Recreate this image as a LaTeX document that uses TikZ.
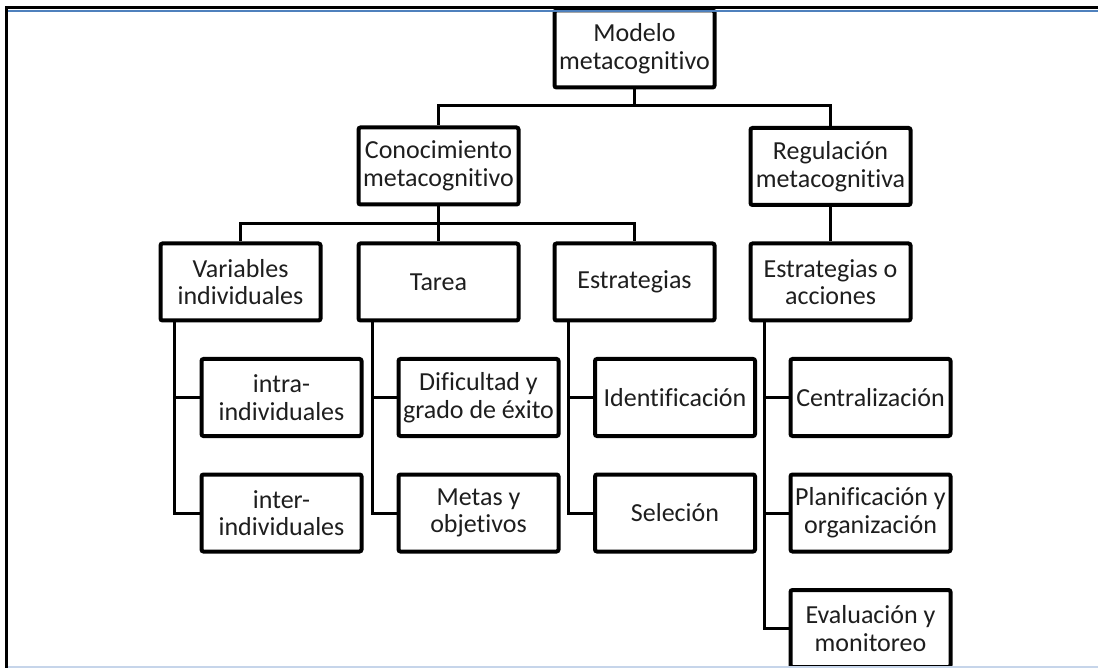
\documentclass[tikz,border=0pt]{standalone}
\usepackage{fontspec}
\setmainfont{Carlito}[Ligatures=NoCommon]
\usetikzlibrary{positioning,calc}
\definecolor{framebl}{HTML}{4F81BD}
\definecolor{framelt}{HTML}{C6D5EA}
\definecolor{inkgray}{HTML}{1E1E1E}
\tikzset{
  mbox/.style={draw=black, line width=2pt, rounded corners=1pt, fill=white,
               minimum width=80pt, minimum height=38.5pt, inner sep=1pt,
               align=center, text=inkgray, font=\fontsize{13}{13.8}\selectfont},
  conn/.style={line width=1.5pt, draw=black}}

\begin{document}
\begin{tikzpicture}[x=0.5pt, y=-0.5pt]
  \clip (0,0) rectangle (1098,668);
  \fill[white] (0,0) rectangle (1098,668);

  % top
  \node[mbox] (modelo) at (634.5,49) {Modelo\\metacognitivo};
  \node[mbox] (conoc) at (438.5,166) {Conocimiento\\metacognitivo};
  \node[mbox] (regul) at (830.5,166.5) {Regulación\\metacognitiva};

  % third row
  \node[mbox] (varind) at (240.5,282) {Variables\\individuales};
  \node[mbox] (tarea) at (438.5,282) {Tarea};
  \node[mbox] (estrat) at (634.5,282) {Estrategias};
  \node[mbox] (estacc) at (830.5,282) {Estrategias o\\acciones};

  % leaves
  \node[mbox] (intra) at (281.5,397.5) {intra-\\individuales};
  \node[mbox] (inter) at (281.5,513) {inter-\\individuales};
  \node[mbox] (dific) at (478.5,397.5) {Dificultad y\\grado de éxito};
  \node[mbox] (metas) at (478.5,513) {Metas y\\objetivos};
  \node[mbox] (ident) at (675,397.5) {Identificación};
  \node[mbox] (selec) at (675,513) {Seleción};
  \node[mbox] (centr) at (870.5,397.5) {Centralización};
  \node[mbox] (plan) at (870.5,513) {Planificación y\\organización};
  \node[mbox] (eval) at (870.5,628.5) {Evaluación y\\monitoreo};

  \draw[conn] (modelo.south) -- ++(0,16) -| (conoc.north);
  \draw[conn] (modelo.south) -- ++(0,16) -| (regul.north);
  \draw[conn] (conoc.south) -- ++(0,17) -| (varind.north);
  \draw[conn] (conoc.south) -- (tarea.north);
  \draw[conn] (conoc.south) -- ++(0,17) -| (estrat.north);
  \draw[conn] (regul.south) -- (estacc.north);

  \foreach \p/\a/\b in {varind/intra/inter, tarea/dific/metas, estrat/ident/selec}{
    \draw[conn] ([xshift=8pt]\p.south west) |- (\a.west);
    \draw[conn] ([xshift=8pt]\p.south west) |- (\b.west);
  }
  \foreach \c in {centr, plan, eval}
    \draw[conn] ([xshift=8pt]estacc.south west) |- (\c.west);

  % frame
  \draw[black, line width=1.5pt] (6.5,668) -- (6.5,8) -- (1098,8);
  \draw[framebl, line width=1pt] (8,11) -- (1098,11);
  \draw[framelt, line width=1pt] (8,667) -- (1098,667);
\end{tikzpicture}
\end{document}
